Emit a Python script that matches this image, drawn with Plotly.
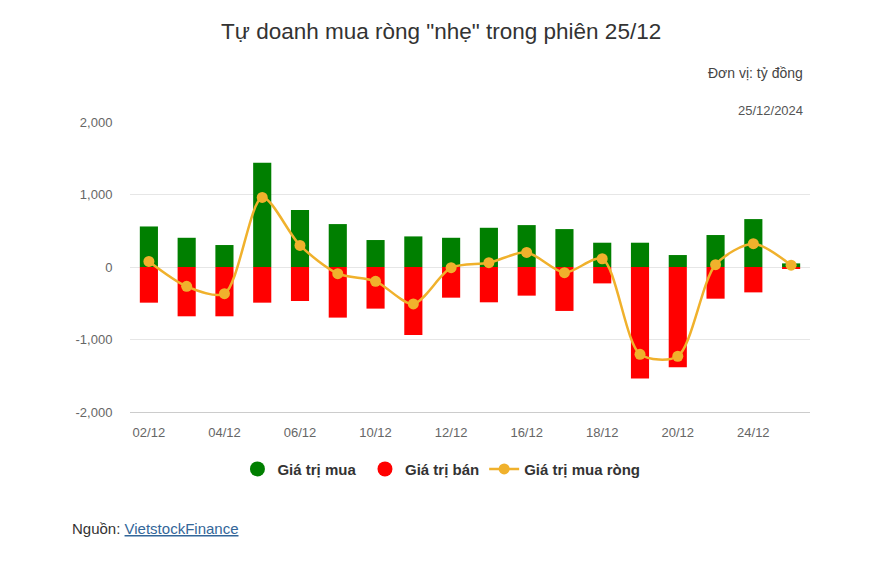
import plotly.graph_objects as go

dates = ["02/12", "03/12", "04/12", "05/12", "06/12", "09/12", "10/12", "11/12", "12/12",
         "13/12", "16/12", "17/12", "18/12", "19/12", "20/12", "23/12", "24/12", "25/12"]
buy = [559, 403, 303, 1437, 785, 592, 372, 422, 403, 541, 578, 523, 335, 335, 165, 441, 661, 50]
sell = [-492, -680, -680, -492, -469, -698, -574, -937, -423, -487, -395, -606, -226, -1539, -1383, -437, -350, -25]
net = [77, -267, -368, 959, 298, -92, -198, -510, -10, 59, 201, -78, 114, -1204, -1231, 32, 321, 25]
y_ticks = [-2000, -1000, 0, 1000, 2000]
y_tick_text = ["-2,000", "-1,000", "0", "1,000", "2,000"]
x_tick_vals = ["02/12", "04/12", "06/12", "10/12", "12/12", "16/12", "18/12", "20/12", "24/12"]

GREEN = "#007F00"
RED = "#FF0000"
GOLD = "#F0B12C"
FONT = "Liberation Sans, Arial, sans-serif"
NB = "\u00a0"

fig = go.Figure()
fig.add_trace(go.Bar(x=dates, y=buy, marker=dict(color=GREEN, line=dict(width=0)),
                     showlegend=False, name="Giá trị mua"))
fig.add_trace(go.Bar(x=dates, y=sell, marker=dict(color=RED, line=dict(width=0)),
                     showlegend=False, name="Giá trị bán"))
# legend entries with round symbols
fig.add_trace(go.Scatter(x=[dates[0]], y=[None], mode="markers", name="<b>Giá trị mua</b>" + NB,
                         marker=dict(color=GREEN, size=15, symbol="circle")))
fig.add_trace(go.Scatter(x=[dates[0]], y=[None], mode="markers", name="<b>Giá trị bán</b>",
                         marker=dict(color=RED, size=15, symbol="circle")))
fig.add_trace(go.Scatter(x=dates, y=net, mode="lines+markers", name="<b>Giá trị mua ròng</b>",
                         line=dict(color=GOLD, width=2.5, shape="spline", smoothing=0.8),
                         marker=dict(color=GOLD, size=11)))

fig.update_layout(
    width=877, height=562,
    paper_bgcolor="white", plot_bgcolor="white",
    barmode="relative", bargap=0.52,
    margin=dict(l=130, r=67, t=122, b=150),
    font=dict(family=FONT, color="#333333"),
    title=dict(text="Tự doanh mua ròng \"nhẹ\" trong phiên 25/12", x=0.503, xanchor="center",
               y=1 - 31 / 562, yref="container", yanchor="middle",
               font=dict(size=22.5, color="#333333", family=FONT)),
    legend=dict(orientation="h", x=0.458, xanchor="center", y=-0.197, yanchor="middle",
                font=dict(size=15, color="#333333", family=FONT), itemclick=False,
                traceorder="normal"),
    xaxis=dict(type="category", categoryorder="array", categoryarray=dates,
               range=[-0.5, len(dates) - 0.5],
               tickmode="array", tickvals=x_tick_vals, ticktext=x_tick_vals,
               showgrid=False, showline=True, linecolor="#cccccc", linewidth=1,
               ticks="outside", ticklen=8, tickcolor="rgba(0,0,0,0)",
               tickfont=dict(size=13, color="#666666", family=FONT), fixedrange=True),
    yaxis=dict(range=[-2000, 2000], tickvals=y_ticks, ticktext=y_tick_text,
               showgrid=True, gridcolor="#e6e6e6", gridwidth=1, zeroline=True,
               zerolinecolor="#e6e6e6", zerolinewidth=1,
               ticks="outside", ticklen=14, tickcolor="rgba(0,0,0,0)",
               tickfont=dict(size=13, color="#666666", family=FONT), fixedrange=True),
    annotations=[
        dict(text="Đơn vị: tỷ đồng", xref="paper", yref="paper", x=0.993, y=1.169,
             xanchor="right", yanchor="middle", showarrow=False,
             font=dict(size=14, color="#444444", family=FONT)),
        dict(text="25/12/2024", xref="paper", yref="paper", x=0.993, y=1.038,
             xanchor="right", yanchor="middle", showarrow=False,
             font=dict(size=13, color="#555555", family=FONT)),
        dict(text="Nguồn: <a href='https://finance.vietstock.vn' style='color:#336699'><u>VietstockFinance</u></a>",
             xref="paper", yref="paper", x=-0.088, y=-0.403,
             xanchor="left", yanchor="middle", showarrow=False,
             font=dict(size=15, color="#333333", family=FONT)),
    ],
)

fig.write_html("out.html")
